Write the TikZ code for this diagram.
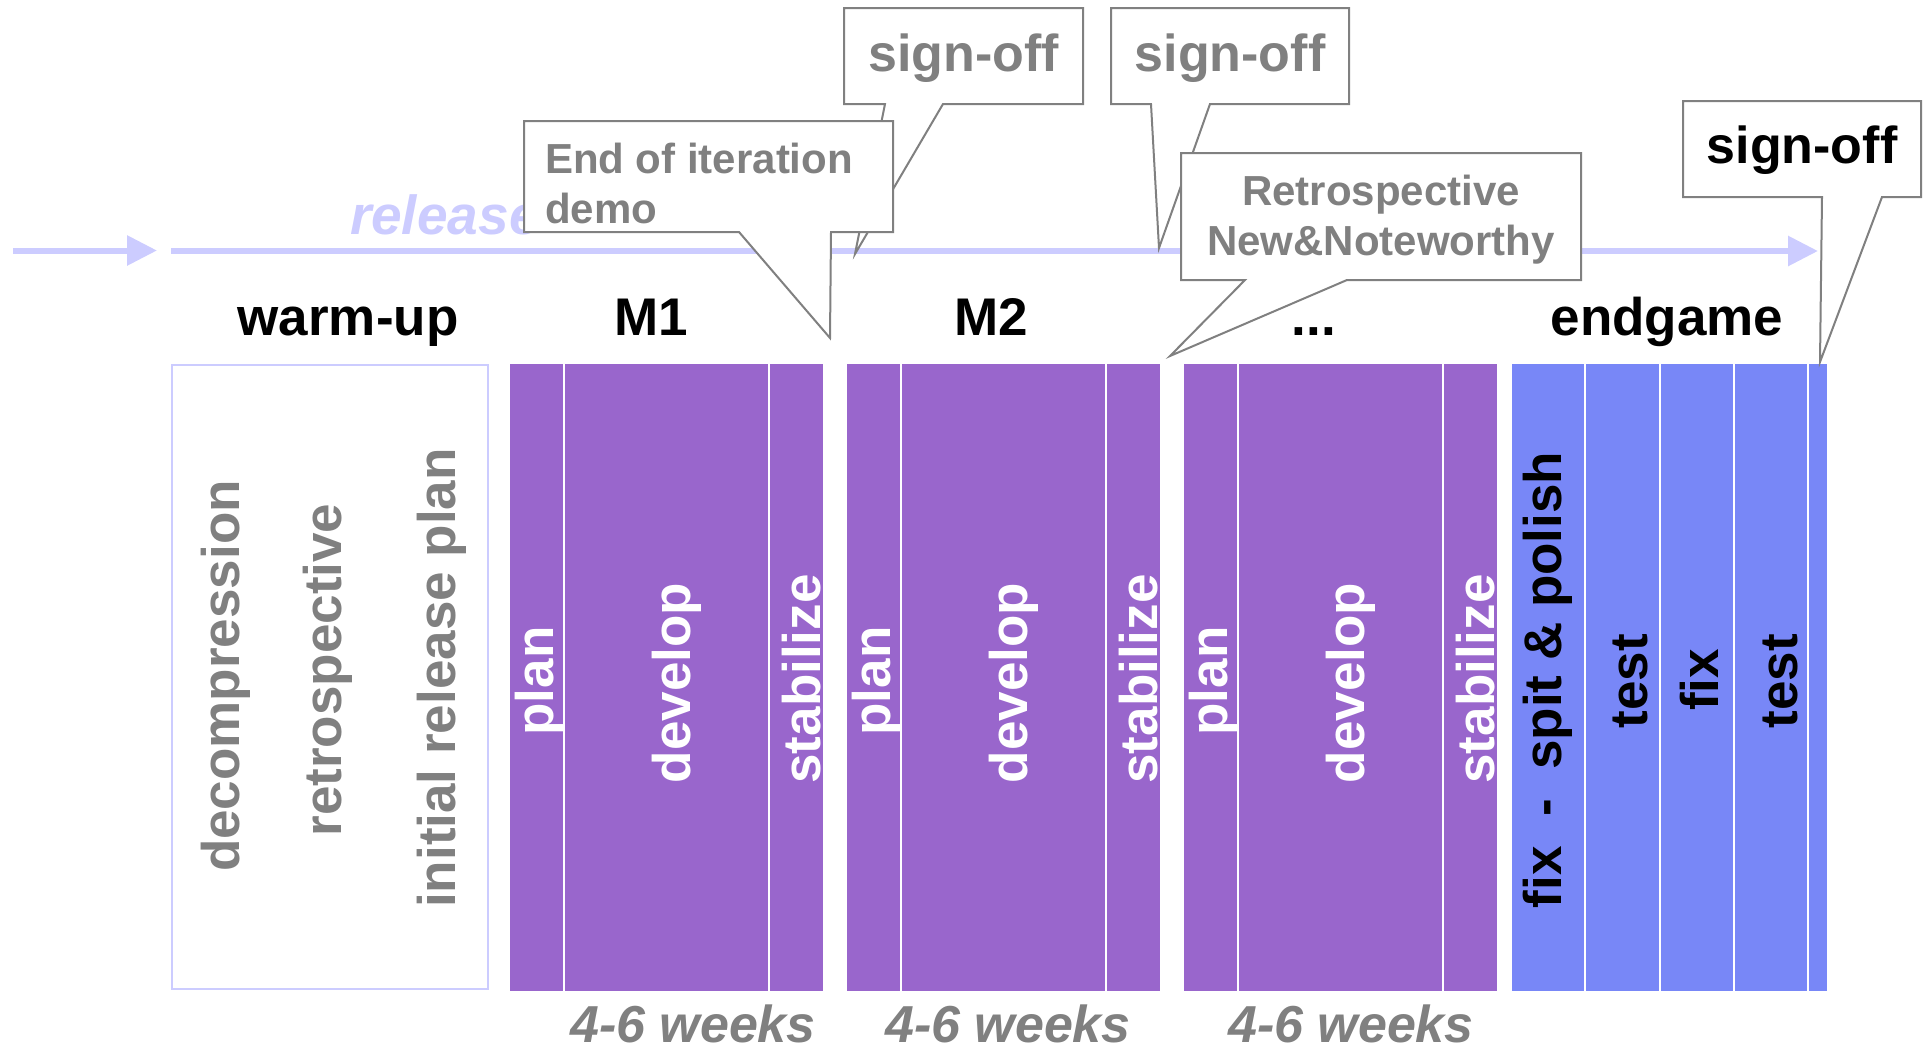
\documentclass[tikz,border=0pt]{standalone}
\usepackage{fontspec}
\setmainfont{Liberation Sans}
\usetikzlibrary{arrows.meta}
\definecolor{lav}{HTML}{CCCCFF}
\definecolor{purp}{HTML}{9966CC}
\definecolor{eblue}{HTML}{7887F7}
\definecolor{gtxt}{HTML}{808080}
\begin{document}
\begin{tikzpicture}[x=1pt,y=-1pt,
  every node/.style={inner sep=0pt,outer sep=0pt},
  titletext/.style={font=\fontsize{53}{60}\selectfont\bfseries,anchor=base},
  rottext/.style={font=\fontsize{53}{60}\selectfont\bfseries,rotate=90,anchor=center},
  weektext/.style={font=\fontsize{52}{58}\selectfont\bfseries\itshape,text=gtxt,anchor=base},
  callout/.style={fill=white,draw=gtxt,line width=2pt,line join=miter},
  calltext/.style={font=\fontsize{42}{50}\selectfont\bfseries,text=gtxt,anchor=base},
  signtext/.style={font=\fontsize{52}{60}\selectfont\bfseries,anchor=base},
  timeline/.style={draw=lav,line width=6pt,-{Triangle[length=30pt,width=29pt]}},
  sep/.style={draw=white,line width=2.5pt}
]
\useasboundingbox (0,0) rectangle (1923,1055);

% timeline arrows
\coordinate (la0) at (13,250.5);
\coordinate (la1) at (157,250.5);
\coordinate (ma0) at (171,251);
\coordinate (ma1) at (1818,251);
\draw[timeline] (la0) -- (la1);
\draw[timeline] (ma0) -- (ma1);
\node[font=\fontsize{55}{60}\selectfont\bfseries\itshape,text=lav,anchor=base west] (rel) at (350,234) {release};

% warm-up box
\draw[draw=lav,line width=2pt,fill=white] (172,365) rectangle (488,989);
\node[rottext,text=gtxt] (wu1) at (226,676) {decompression};
\node[rottext,text=gtxt] (wu2) at (328,670) {retrospective};
\node[rottext,text=gtxt] (wu3) at (442,678) {initial release plan};

% iteration bars
\foreach \xo/\nm in {510/a,847/b,1184/c}{
  \fill[purp] (\xo,364) rectangle ({\xo+313},991);
  \draw[sep] ({\xo+54},364) -- ({\xo+54},991);
  \draw[sep] ({\xo+259},364) -- ({\xo+259},991);
  \node[rottext,text=white] (pl\nm) at ({\xo+30},681) {plan};
  \node[rottext,text=white] (dv\nm) at ({\xo+167},683) {develop};
  \node[rottext,text=white] (st\nm) at ({\xo+292},679) {stabilize};
}

% endgame bars
\fill[eblue] (1512,364) rectangle (1827,991);
\foreach \xs in {1585,1660,1734,1808}{
  \draw[sep] (\xs,364) -- (\xs,991);
}
\node[rottext,text=black] (eg1) at (1548,680) {fix\ \ -\ \ spit \& polish};
\node[rottext,text=black] (eg2) at (1630,681) {test};
\node[rottext,text=black] (eg3) at (1699,680) {fix};
\node[rottext,text=black] (eg4) at (1780,681) {test};

% titles
\node[titletext] (t1) at (348,335) {warm-up};
\node[titletext] (t2) at (651,335) {M1};
\node[titletext] (t3) at (991,335) {M2};
\node[titletext] (t4) at (1314,335) {...};
\node[titletext] (t5) at (1667,335) {endgame};

% durations
\node[weektext] (w1) at (693,1042) {4-6 weeks};
\node[weektext] (w2) at (1008,1042) {4-6 weeks};
\node[weektext] (w3) at (1351,1042) {4-6 weeks};

% sign-off callouts (behind)
\draw[callout] (844,8) -- (1083,8) -- (1083,104) -- (943,104) -- (855,254) -- (885,104) -- (844,104) -- cycle;
\node[signtext,text=gtxt] (s1) at (963.5,71) {sign-off};
\draw[callout] (1111,8) -- (1349,8) -- (1349,104) -- (1210,104) -- (1159,248) -- (1151,104) -- (1111,104) -- cycle;
\node[signtext,text=gtxt] (s2) at (1230,71) {sign-off};

% end of iteration callout
\draw[callout] (524,121) -- (893,121) -- (893,232) -- (831,232) -- (830,338) -- (739,232) -- (524,232) -- cycle;
\node[calltext,anchor=base west] (e1) at (545,173) {End of iteration};
\node[calltext,anchor=base west] (e2) at (545,223) {demo};

% retrospective callout
\draw[callout] (1181,153) -- (1581,153) -- (1581,280) -- (1347,280) -- (1170,356) -- (1245,280) -- (1181,280) -- cycle;
\node[calltext] (r1) at (1381,205) {Retrospective};
\node[calltext] (r2) at (1381,255) {New\&Noteworthy};

% final sign-off
\draw[callout] (1683,101) -- (1921,101) -- (1921,197) -- (1882,197) -- (1820,362) -- (1822,197) -- (1683,197) -- cycle;
\node[signtext,text=black] (s3) at (1802,163) {sign-off};
\end{tikzpicture}
\end{document}
